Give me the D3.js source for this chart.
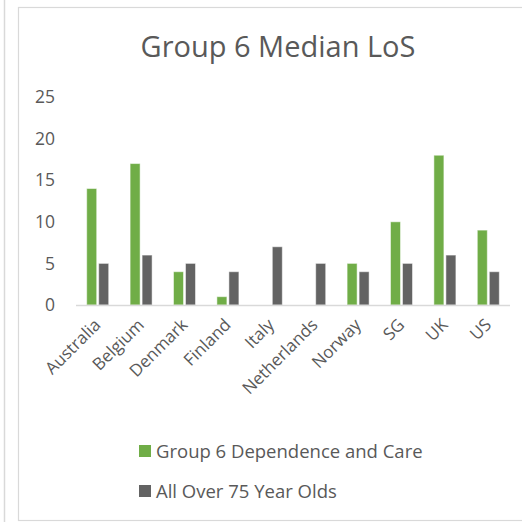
<!DOCTYPE html>
<html>
<head>
    <title>Group 6 Median LoS</title>
    <style type="text/css">
        body { margin: 0; background: #fff; }
        text { font-family: "Open Sans", sans-serif; fill: #595959; }
    </style>
</head>
<body>
    <div id="chart"></div>
    <script src="https://d3js.org/d3.v7.min.js"></script>
    <script>
      var countries = ["Australia", "Belgium", "Denmark", "Finland", "Italy",
                       "Netherlands", "Norway", "SG", "UK", "US"];
      var dependenceCare = [14, 17, 4, 1, null, null, 5, 10, 18, 9];
      var over75 = [5, 6, 5, 4, 7, 5, 4, 5, 6, 4];
      var yTicks = [0, 5, 10, 15, 20, 25];
      var seriesNames = ["Group 6 Dependence and Care", "All Over 75 Year Olds"];
      var seriesColors = ["#70ad47", "#636363"];

      var width = 522, height = 522;
      //  plot area edges (avoid the name "top", it is window.top)
      var plotLeft = 76, plotRight = 510, plotTop = 97, plotBottom = 305;

      var svg = d3.select("#chart").append("svg")
          .attr("width", width).attr("height", height);

      //  outer frames
      svg.append("line").attr("x1", 4.5).attr("x2", 4.5).attr("y1", 0).attr("y2", height)
          .attr("stroke", "#d9d9d9").attr("stroke-width", 1.5);
      svg.append("rect").attr("x", 18.5).attr("y", 7.5).attr("width", 520).attr("height", 513)
          .attr("fill", "none").attr("stroke", "#d9d9d9").attr("stroke-width", 1.2);

      svg.append("text").attr("x", 278).attr("y", 57).attr("text-anchor", "middle")
          .style("font-size", "29px").text("Group 6 Median LoS");

      var x = d3.scaleBand().domain(countries).range([plotLeft, plotRight]);
      var y = d3.scaleLinear().domain([0, 25]).range([plotBottom, plotTop]);
      var barW = 10, gap = 2;

      //  y axis labels only, no line
      var yAxis = svg.append("g").attr("transform", "translate(55,0)")
          .call(d3.axisLeft(y).tickValues(yTicks).tickSize(0).tickPadding(0));
      yAxis.select(".domain").remove();
      yAxis.selectAll("text").style("font-size", "17.5px").style("font-family", "Open Sans")
          .attr("fill", "#595959");

      var series = [dependenceCare, over75];
      series.forEach(function (vals, s) {
        svg.append("g").selectAll("rect")
          .data(countries.map(function (c, i) { return { c: c, v: vals[i] }; })
                .filter(function (d) { return d.v != null; }))
          .enter().append("rect")
          .attr("x", function (d) {
            return x(d.c) + x.bandwidth() / 2 - barW - gap / 2 + s * (barW + gap);
          })
          .attr("y", function (d) { return y(d.v); })
          .attr("width", barW)
          .attr("height", function (d) { return plotBottom - y(d.v); })
          .attr("fill", seriesColors[s])
          .attr("stroke", "#ffffff").attr("stroke-opacity", 0.5).attr("stroke-width", 1);
      });

      //  x axis baseline and rotated labels
      svg.append("line").attr("x1", plotLeft).attr("x2", plotRight)
          .attr("y1", plotBottom + 0.5).attr("y2", plotBottom + 0.5)
          .attr("stroke", "#d9d9d9").attr("stroke-width", 1.5);
      svg.append("g").selectAll("text").data(countries).enter().append("text")
          .attr("transform", function (d) {
            return "translate(" + (x(d) + x.bandwidth() / 2 + 4) + "," + (plotBottom + 21) + ") rotate(-45)";
          })
          .attr("text-anchor", "end")
          .style("font-size", "17px")
          .text(function (d) { return d; });

      //  legend
      var legend = svg.append("g").selectAll("g").data(seriesNames).enter().append("g")
          .attr("transform", function (d, i) { return "translate(139," + (445 + i * 40) + ")"; });
      legend.append("rect").attr("width", 12).attr("height", 12)
          .attr("fill", function (d, i) { return seriesColors[i]; });
      legend.append("text").attr("x", 17).attr("y", 13).style("font-size", "18.5px")
          .text(function (d) { return d; });
    </script>
</body>
</html>
